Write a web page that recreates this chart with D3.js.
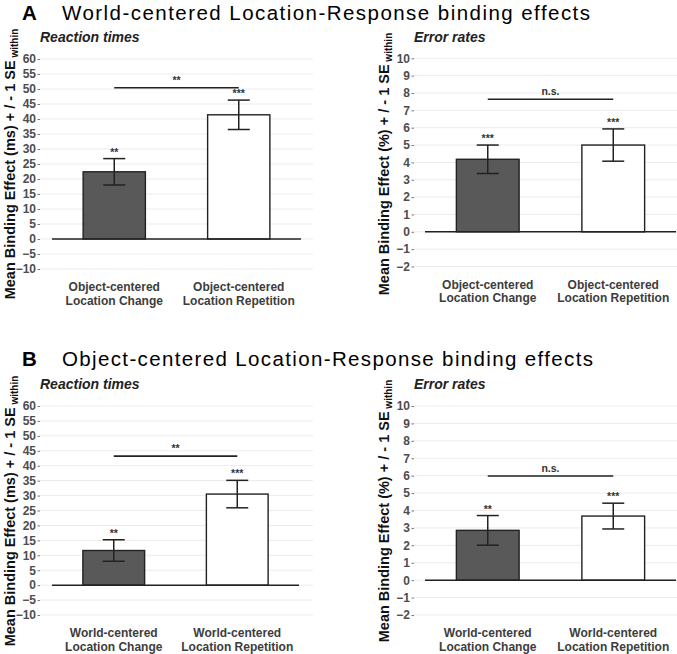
<!DOCTYPE html>
<html>
  <head>
    <meta http-equiv="Content-Type" content="text/html;charset=utf-8">
    <script src="https://d3js.org/d3.v7.min.js"></script>
    <style>
      body { margin: 0; background: #fff; }
      text { font-family: "Liberation Sans", Arial, sans-serif; }
    </style>
  </head>
  <body>
    <svg id="chart" width="677" height="654"></svg>
    <script type="text/javascript">

// ---- data ----
var catsA = [["Object-centered", "Location Change"], ["Object-centered", "Location Repetition"]];
var catsB = [["World-centered", "Location Change"], ["World-centered", "Location Repetition"]];

var rtMeanA = [22.4, 41.4];
var rtSeA = [4.4, 4.9];
var rtStarsA = ["**", "***"];
var rtPairA = 50.4, rtPairLabelA = "**";

var erMeanA = [4.18, 5.0];
var erSeA = [0.82, 0.93];
var erStarsA = ["***", "***"];
var erPairA = 7.64, erPairLabelA = "n.s.";

var rtMeanB = [11.6, 30.5];
var rtSeB = [3.6, 4.6];
var rtStarsB = ["**", "***"];
var rtPairB = 43.2, rtPairLabelB = "**";

var erMeanB = [2.86, 3.68];
var erSeB = [0.85, 0.74];
var erStarsB = ["**", "***"];
var erPairB = 5.98, erPairLabelB = "n.s.";

var rtTicks = [-10, -5, 0, 5, 10, 15, 20, 25, 30, 35, 40, 45, 50, 55, 60];
var erTicks = [-2, -1, 0, 1, 2, 3, 4, 5, 6, 7, 8, 9, 10];

var barFills = ["#595959", "#ffffff"];

var svg = d3.select("#chart");

function title(letter, txt, y, len) {
    svg.append("text").attr("x", 22).attr("y", y)
        .style("font-size", "20.5px").style("font-weight", "bold")
        .text(letter);
    svg.append("text").attr("x", 62).attr("y", y)
        .style("font-size", "20.5px")
        .attr("textLength", len)
        .text(txt);
}

function panel(o) {
    var g = svg.append("g");
    var y = d3.scaleLinear().domain(o.domain).range([o.y0, o.y1]);
    var x = d3.scaleBand().domain([0, 1]).range([o.bx0, o.bx1])
        .paddingInner(0.5).paddingOuter(0.25);

    // grid
    g.selectAll(".grid").data(o.ticks).enter().append("line")
        .attr("x1", o.gx0).attr("x2", o.gx1)
        .attr("y1", d => y(d)).attr("y2", d => y(d))
        .style("stroke", "#ebebeb").style("stroke-width", 1);

    // axis
    var ax = g.append("g").attr("transform", "translate(" + o.gx0 + ",0)")
        .call(d3.axisLeft(y).tickValues(o.ticks).tickSize(2.5).tickPadding(1.5));
    ax.select(".domain").remove();
    ax.selectAll("line").style("stroke", "#777");
    ax.selectAll("text").style("font-size", "12px").style("font-weight", "bold")
        .style("fill", "#4d4d4d").style("font-family", "'Liberation Sans', Arial, sans-serif");

    // bars
    g.selectAll(".bar").data(o.means).enter().append("rect")
        .attr("x", (d, i) => x(i)).attr("width", x.bandwidth())
        .attr("y", d => y(d)).attr("height", d => y(0) - y(d))
        .style("fill", (d, i) => barFills[i])
        .style("stroke", "#222").style("stroke-width", 1.4);

    // zero line
    g.append("line").attr("x1", o.bx0).attr("x2", o.bx1)
        .attr("y1", y(0)).attr("y2", y(0))
        .style("stroke", "#222").style("stroke-width", 1.5);

    // error bars
    var cap = 11;
    o.means.forEach(function(m, i) {
        var cx = x(i) + x.bandwidth() / 2;
        var hi = y(m + o.se[i]), lo = y(m - o.se[i]);
        [[cx, cx, hi, lo], [cx - cap, cx + cap, hi, hi], [cx - cap, cx + cap, lo, lo]].forEach(function(s) {
            g.append("line").attr("x1", s[0]).attr("x2", s[1]).attr("y1", s[2]).attr("y2", s[3])
                .style("stroke", "#222").style("stroke-width", 1.5);
        });
        g.append("text").attr("x", cx).attr("y", hi - 3)
            .attr("text-anchor", "middle")
            .style("font-size", "10.5px").style("font-weight", "bold").style("fill", "#333")
            .text(o.stars[i]);
    });

    // pair comparison
    var c0 = x(0) + x.bandwidth() / 2, c1 = x(1) + x.bandwidth() / 2;
    g.append("line").attr("x1", c0).attr("x2", c1)
        .attr("y1", y(o.pair)).attr("y2", y(o.pair))
        .style("stroke", "#222").style("stroke-width", 1.6);
    g.append("text").attr("x", (c0 + c1) / 2).attr("y", y(o.pair) - 4)
        .attr("text-anchor", "middle")
        .style("font-size", "10.5px").style("font-weight", "bold").style("fill", "#333")
        .text(o.pairLabel);

    // category labels
    o.cats.forEach(function(c, i) {
        var cx = x(i) + x.bandwidth() / 2;
        c.forEach(function(line, j) {
            g.append("text").attr("x", cx).attr("y", o.y0 + 22 + j * 13.5)
                .attr("text-anchor", "middle")
                .style("font-size", "12px").style("font-weight", "bold").style("fill", "#3d3d3d")
                .text(line);
        });
    });

    // subtitle
    g.append("text").attr("x", o.gx0).attr("y", o.subY)
        .style("font-size", "14px").style("font-weight", "bold").style("font-style", "italic")
        .style("fill", "#222")
        .text(o.sub);

    // y title
    var t = g.append("text")
        .attr("transform", "translate(" + o.tx + "," + (o.tCy) + ") rotate(-90)")
        .attr("text-anchor", "middle")
        .style("font-size", "14.5px").style("font-weight", "bold").style("fill", "#111");
    t.append("tspan").text(o.ytitle);
    t.append("tspan").attr("dy", 3).style("font-size", "10px").text(" within");
}

title("A", "World-centered Location-Response  binding effects", 20, 528);
title("B", "Object-centered Location-Response binding effects", 366, 531);

panel({ domain: [-10, 60], y0: 269, y1: 59, ticks: rtTicks, gx0: 40, gx1: 313, bx0: 52, bx1: 301,
    means: rtMeanA, se: rtSeA, stars: rtStarsA, pair: rtPairA, pairLabel: rtPairLabelA, cats: catsA,
    sub: "Reaction times", subY: 42, tx: 15, tCy: 164, ytitle: "Mean Binding Effect (ms) + / - 1 SE" });
panel({ domain: [-2, 10], y0: 266.5, y1: 58.3, ticks: erTicks, gx0: 414, gx1: 677, bx0: 425, bx1: 676,
    means: erMeanA, se: erSeA, stars: erStarsA, pair: erPairA, pairLabel: erPairLabelA, cats: catsA,
    sub: "Error rates", subY: 42, tx: 389, tCy: 164, ytitle: "Mean Binding Effect (%) + / - 1 SE" });
panel({ domain: [-10, 60], y0: 615, y1: 406, ticks: rtTicks, gx0: 40, gx1: 313, bx0: 52, bx1: 299,
    means: rtMeanB, se: rtSeB, stars: rtStarsB, pair: rtPairB, pairLabel: rtPairLabelB, cats: catsB,
    sub: "Reaction times", subY: 389, tx: 15, tCy: 511, ytitle: "Mean Binding Effect (ms) + / - 1 SE" });
panel({ domain: [-2, 10], y0: 615, y1: 406, ticks: erTicks, gx0: 414, gx1: 677, bx0: 425, bx1: 676,
    means: erMeanB, se: erSeB, stars: erStarsB, pair: erPairB, pairLabel: erPairLabelB, cats: catsB,
    sub: "Error rates", subY: 389, tx: 389, tCy: 511, ytitle: "Mean Binding Effect (%) + / - 1 SE" });

    </script>
  </body>
</html>
